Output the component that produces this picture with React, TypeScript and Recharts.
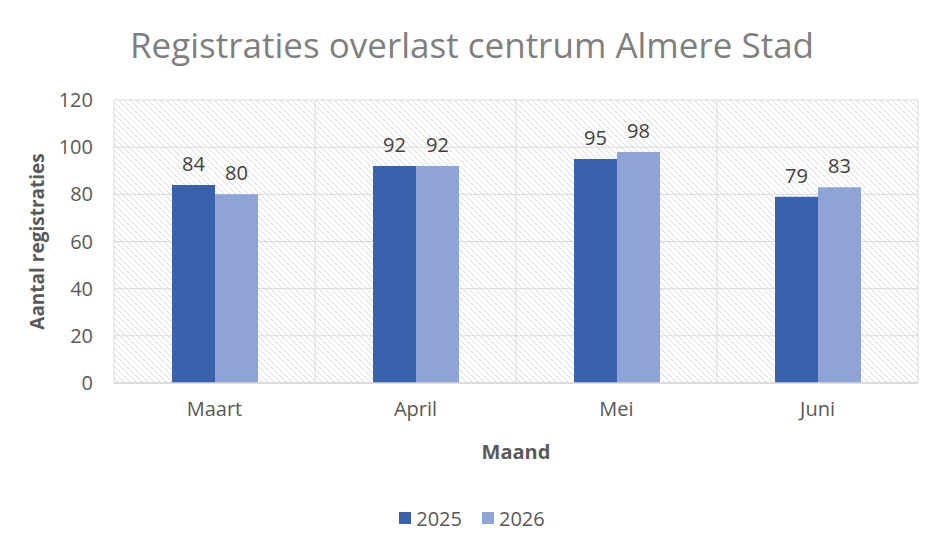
import React from 'react';
import { BarChart, Bar, XAxis, YAxis, CartesianGrid, Legend, LabelList } from 'recharts';

const months = ['Maart', 'April', 'Mei', 'Juni'];
const values2025 = [84, 92, 95, 79];
const values2026 = [80, 92, 98, 83];
const yTicks = [0, 20, 40, 60, 80, 100, 120];

const series = [
    { key: 'y2025', name: '2025', color: '#3A62AC' },
    { key: 'y2026', name: '2026', color: '#8FA4D6' },
];

const chartData = months.map((m, i) => ({
    month: m,
    y2025: values2025[i],
    y2026: values2026[i],
}));

const FONT = '"Open Sans", sans-serif';

function LegendContent() {
    return (
        <div style={{ height: 24, display: 'flex', justifyContent: 'center', alignItems: 'center', fontFamily: FONT, fontSize: 20, color: '#595959' }}>
            {series.map(s => (
                <div key={s.key} style={{ display: 'flex', alignItems: 'center', margin: '0 10px' }}>
                    <span style={{ width: 12, height: 12, background: s.color, display: 'inline-block', marginRight: 5 }} />
                    <span>{s.name}</span>
                </div>
            ))}
        </div>
    );
}

export default function App() {
    return (
        <div style={{ position: 'absolute', left: 0, top: 0, width: 944, height: 543, background: '#fff' }}>
            <div style={{ position: 'absolute', top: 24, left: 0, width: 944, textAlign: 'center', fontFamily: FONT, fontSize: 35, lineHeight: '42px', color: '#7F7F7F' }}>
                Registraties overlast centrum Almere Stad
            </div>
            <BarChart
                width={944}
                height={543}
                data={chartData}
                margin={{ top: 100, right: 26, left: 0, bottom: 13 }}
                barGap={0}
            >
                <defs>
                    <pattern id="hatch" patternUnits="userSpaceOnUse" width="6" height="6">
                        <path d="M0,0 L6,6 M-1,5 L1,7 M5,-1 L7,1" stroke="#D2D2D2" strokeWidth="0.8" />
                    </pattern>
                </defs>
                <CartesianGrid
                    fill="url(#hatch)"
                    fillOpacity={1}
                    stroke="#D9D9D9"
                    verticalCoordinatesGenerator={({ offset }: any) =>
                        [0, 1, 2, 3, 4].map(i => offset.left + (i * offset.width) / months.length)
                    }
                />
                <XAxis
                    dataKey="month"
                    height={123}
                    tickLine={false}
                    tickSize={0}
                    tickMargin={19}
                    axisLine={{ stroke: '#D9D9D9', strokeWidth: 1.5 }}
                    tick={{ fontFamily: FONT, fontSize: 20, fill: '#595959' }}
                    label={({ viewBox }: any) => (
                        <text
                            x={viewBox.x + viewBox.width / 2}
                            y={viewBox.y + 68}
                            textAnchor="middle"
                            dominantBaseline="central"
                            fontFamily={FONT}
                            fontSize={20}
                            fontWeight="bold"
                            fill="#595959"
                        >
                            Maand
                        </text>
                    )}
                />
                <YAxis
                    width={114}
                    domain={[0, 120]}
                    ticks={yTicks}
                    tickLine={false}
                    tickSize={0}
                    tickMargin={21}
                    axisLine={false}
                    tick={{ fontFamily: FONT, fontSize: 20, fill: '#595959' }}
                    label={({ viewBox }: any) => {
                        const cx = viewBox.x + 37;
                        const cy = viewBox.y + viewBox.height / 2;
                        return (
                            <text
                                x={cx}
                                y={cy}
                                transform={`rotate(-90 ${cx} ${cy})`}
                                textAnchor="middle"
                                dominantBaseline="central"
                                fontFamily={FONT}
                                fontSize={19}
                                fontWeight="bold"
                                fill="#595959"
                            >
                                Aantal registraties
                            </text>
                        );
                    }}
                />
                <Legend verticalAlign="bottom" content={<LegendContent />} wrapperStyle={{ left: 0, width: 944 }} />
                {series.map(s => (
                    <Bar key={s.key} dataKey={s.key} name={s.name} fill={s.color} barSize={43} isAnimationActive={false}>
                        <LabelList dataKey={s.key} position="top" offset={14} fontFamily={FONT} fontSize={20} fill="#404040" />
                    </Bar>
                ))}
            </BarChart>
        </div>
    );
}
